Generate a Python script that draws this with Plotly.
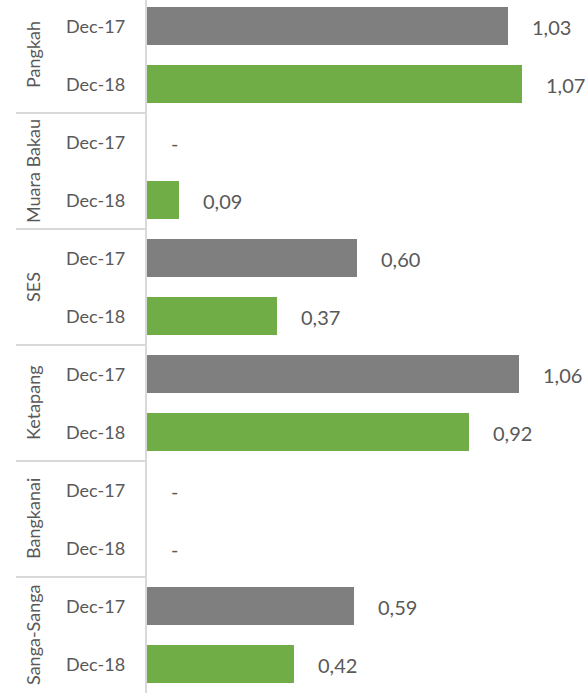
import plotly.graph_objects as go

groups = ["Pangkah", "Muara Bakau", "SES", "Ketapang", "Bangkanai", "Sanga-Sanga"]
periods = ["Dec-17", "Dec-18"]
dec17 = [1.03, 0.0, 0.60, 1.06, 0.0, 0.59]
dec18 = [1.07, 0.09, 0.37, 0.92, 0.0, 0.42]
series = [dec17, dec18]
colors = ["#7f7f7f", "#70ad47"]

FONT = "Lato"
TXT = "#595959"

W, H = 588, 693
L = 147
plot_w = W - L

def fmt(v):
    return "-" if v == 0 else f"{v:.2f}".replace(".", ",")

fig = go.Figure()
for si, (vals, col) in enumerate(zip(series, colors)):
    ys = [2 * g + si for g in range(len(groups))]
    fig.add_trace(go.Bar(
        x=vals, y=ys, orientation="h", width=0.66,
        marker=dict(color=col, line=dict(width=0)),
        name=periods[si], showlegend=False, hoverinfo="skip",
    ))

annotations = []
shapes = []
for g, grp in enumerate(groups):
    for si in range(2):
        y = 2 * g + si
        v = series[si][g]
        annotations.append(dict(
            x=v, y=y, xref="x", yref="y", text=fmt(v), showarrow=False,
            xanchor="left", yanchor="middle", xshift=22, yshift=-1,
            font=dict(family=FONT, size=20, color=TXT),
        ))
        annotations.append(dict(
            x=-(L - 127) / plot_w, y=y, xref="paper", yref="y", text=periods[si],
            showarrow=False, xanchor="right", yanchor="middle",
            font=dict(family=FONT, size=18, color=TXT),
        ))
    annotations.append(dict(
        x=-(L - 33) / plot_w, y=2 * g + 0.5, xref="paper", yref="y", text=grp,
        showarrow=False, textangle=-90, xanchor="center", yanchor="middle",
        font=dict(family=FONT, size=18, color=TXT),
    ))
    if g < len(groups) - 1:
        shapes.append(dict(
            type="line", xref="paper", yref="y",
            x0=-(L - 16) / plot_w, x1=0, y0=2 * g + 1.5, y1=2 * g + 1.5,
            line=dict(color="#d9d9d9", width=2),
        ))

fig.update_layout(
    width=W, height=H,
    margin=dict(l=L, r=0, t=0, b=0),
    paper_bgcolor="white", plot_bgcolor="white",
    bargap=0,
    xaxis=dict(range=[0, plot_w / 350.5], showgrid=False, zeroline=False,
               showticklabels=False, showline=False, fixedrange=True),
    yaxis=dict(range=[11.5, -0.448], showgrid=False, zeroline=False,
               showticklabels=False, showline=True, linecolor="#d9d9d9",
               linewidth=2, fixedrange=True),
    annotations=annotations,
    shapes=shapes,
)

fig.write_html("out.html")
